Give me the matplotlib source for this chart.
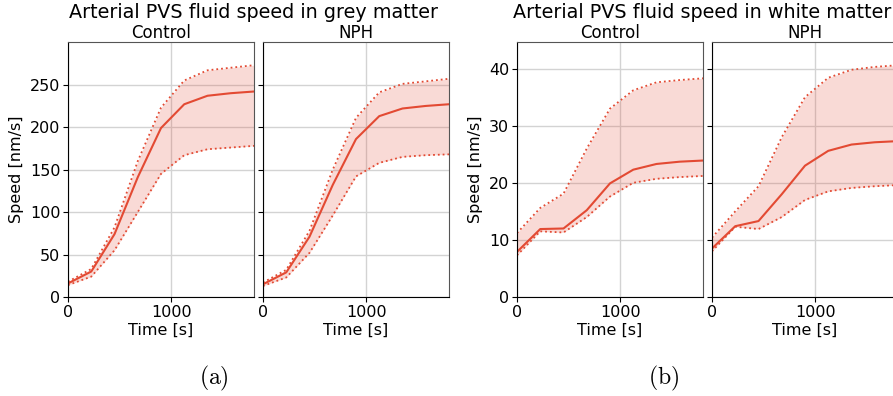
import numpy as np
import matplotlib.pyplot as plt

plt.rcParams['mathtext.fontset'] = 'cm'

time = [0, 225, 450, 675, 900, 1125, 1350, 1575, 1800]

# grey matter
grey_ctrl_mean = [16, 30, 74, 141, 199, 227, 237, 240, 242]
grey_ctrl_upper = [18, 33, 82, 160, 223, 255, 267, 270, 273]
grey_ctrl_lower = [14, 24, 55, 100, 145, 167, 174, 176, 178]
grey_nph_mean = [15, 29, 71, 132, 186, 213, 222, 225, 227]
grey_nph_upper = [17, 32, 78, 150, 211, 241, 251, 254, 257]
grey_nph_lower = [13, 23, 52, 96, 142, 158, 165, 167, 168]

# white matter
white_ctrl_mean = [7.9, 11.9, 12.0, 15.2, 19.9, 22.3, 23.3, 23.7, 23.9]
white_ctrl_upper = [11.2, 15.6, 18.1, 26.0, 33.0, 36.2, 37.6, 38.0, 38.3]
white_ctrl_lower = [7.3, 11.5, 11.3, 14.0, 17.6, 20.0, 20.7, 21.0, 21.2]
white_nph_mean = [8.5, 12.4, 13.3, 18.0, 23.0, 25.6, 26.7, 27.1, 27.3]
white_nph_upper = [10.4, 15.0, 19.4, 28.0, 35.0, 38.4, 39.8, 40.3, 40.6]
white_nph_lower = [8.0, 12.3, 11.9, 14.0, 17.0, 18.5, 19.1, 19.4, 19.6]

color = '#e34a33'
W, H = 893, 396

fig = plt.figure(figsize=(W / 100, H / 100), dpi=100)


def make_axes(x0):
    return fig.add_axes([x0 / W, (H - 297) / H, 186 / W, 255 / H])


def draw(ax, mean, upper, lower, title, ylabel):
    ax.fill_between(time, lower, upper, color=color, alpha=0.2, lw=0)
    ax.plot(time, upper, color=color, ls=':', lw=1.3)
    ax.plot(time, lower, color=color, ls=':', lw=1.3)
    ax.plot(time, mean, color=color, lw=1.5)
    ax.set_xlim(0, 1800)
    ax.set_xticks([0, 1000])
    ax.grid(True, color='#d3d3d3', lw=1)
    ax.set_axisbelow(True)
    ax.set_title(title, fontsize=12, pad=3)
    ax.set_xlabel('Time [s]', fontsize=11.5, labelpad=2)
    ax.tick_params(labelsize=11.5, length=3.5, pad=2)
    for s in ['top', 'right']:
        ax.spines[s].set_color('#555555')
    if ylabel:
        ax.set_ylabel('Speed [nm/s]', fontsize=11.5)
    else:
        ax.tick_params(labelleft=False)


groups = [
    (68, 'grey', [grey_ctrl_mean, grey_ctrl_upper, grey_ctrl_lower],
     [grey_nph_mean, grey_nph_upper, grey_nph_lower], [0, 50, 100, 150, 200, 250]),
    (517, 'white', [white_ctrl_mean, white_ctrl_upper, white_ctrl_lower],
     [white_nph_mean, white_nph_upper, white_nph_lower], [0, 10, 20, 30, 40]),
]

for x0, name, ctrl, nph, yt in groups:
    ax1 = make_axes(x0)
    ax2 = make_axes(x0 + 195)
    draw(ax1, *ctrl, 'Control', True)
    draw(ax2, *nph, 'NPH', False)
    ymax = 1.1 * max(max(ctrl[1]), max(nph[1]))
    for ax in (ax1, ax2):
        ax.set_ylim(0, ymax)
        ax.set_yticks(yt)

fig.text(253 / W, 1 - 13 / H, 'Arterial PVS fluid speed in grey matter',
         ha='center', va='center', fontsize=13.8)
fig.text(702 / W, 1 - 13 / H, 'Arterial PVS fluid speed in white matter',
         ha='center', va='center', fontsize=13.8)
fig.text(214 / W, 1 - 378 / H, r'$\mathrm{(a)}$', ha='center', va='center', fontsize=17)
fig.text(664 / W, 1 - 378 / H, r'$\mathrm{(b)}$', ha='center', va='center', fontsize=17)

fig.savefig('out.png', dpi=100)
